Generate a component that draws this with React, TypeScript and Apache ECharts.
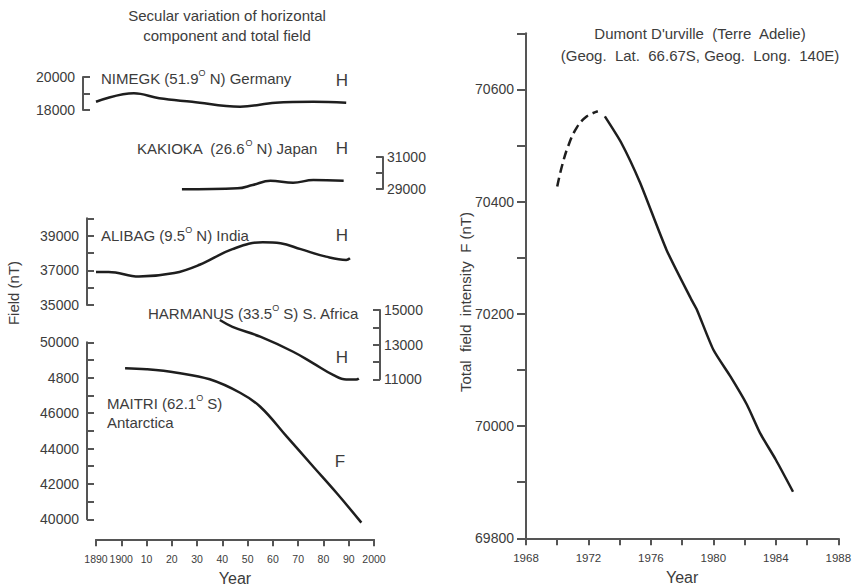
import React, { useEffect, useRef } from 'react';
import * as echarts from 'echarts';

// ---- Left figure: secular variation (years on a shared axis) ----
const nimegkYears = [1890, 1905, 1915, 1928, 1947, 1961, 1976, 1989];
const nimegkH = [18500, 19010, 18710, 18500, 18200, 18440, 18500, 18440];

const kakiokaYears = [1924, 1946, 1952, 1959, 1968, 1976, 1988];
const kakiokaH = [28980, 29040, 29250, 29520, 29390, 29560, 29520];

const alibagYears = [1890, 1895, 1907, 1921, 1931, 1944, 1956, 1963, 1971, 1981, 1989, 1990.5];
const alibagH = [36900, 36910, 36640, 36840, 37320, 38220, 38620, 38560, 38220, 37790, 37600, 37700];

const harmanusYears = [1939, 1944, 1955, 1968, 1976, 1984, 1989, 1993, 1994];
const harmanusH = [14420, 14030, 13460, 12590, 11920, 11240, 10990, 10990, 11050];

const maitriYears = [1901.5, 1910, 1922, 1935, 1947, 1955, 1965.5, 1976, 1985.3, 1995];
const maitriF = [48530, 48475, 48280, 47910, 47150, 46360, 44670, 42970, 41470, 39810];

// ---- Right figure: Dumont D'urville total field ----
const dumontDashedYears = [1970.0, 1970.3, 1970.7, 1971.25, 1971.9, 1972.6];
const dumontDashedF = [70427, 70463, 70499, 70532, 70552, 70561];
const dumontSolidYears = [1973.05, 1974.1, 1975.3, 1977.0, 1978.6, 1978.95, 1980.0, 1981.1, 1982.15, 1983.0, 1984.0, 1985.1];
const dumontSolidF = [70552, 70505, 70434, 70314, 70225, 70207, 70136, 70088, 70038, 69987, 69940, 69883];

const FONT = 'Liberation Sans, Arial, Helvetica, sans-serif';
const TXT = '#3c3c3c';
const AX = '#555555';
const LINE = '#1e1e1e';

const zip = (xs: number[], ys: number[]) => xs.map((x, i) => [x, ys[i]]);

function leftYAxis(gridIndex: number, min: number, max: number, pos: 'left' | 'right', offset: number, labelFn: (v: number) => string) {
  return {
    gridIndex,
    type: 'value',
    min,
    max,
    interval: 1000,
    position: pos,
    offset,
    axisLine: { show: true, lineStyle: { color: AX, width: 2 } },
    axisTick: { show: true, inside: true, length: 7, lineStyle: { color: AX, width: 2 } },
    axisLabel: {
      show: true,
      formatter: labelFn,
      color: TXT,
      fontSize: 14,
      fontFamily: FONT,
      margin: pos === 'left' ? 8 : 4,
    },
    splitLine: { show: false },
  };
}

function hiddenX(gridIndex: number) {
  return { gridIndex, type: 'value', min: 1890, max: 2000, interval: 10, show: false };
}

function stationText(x: number, y: number, pre: string, post: string) {
  return {
    type: 'text',
    x,
    y,
    style: {
      text: `{a|${pre}}{s|O}{a|${post}}`,
      verticalAlign: 'middle',
      align: 'left',
      rich: {
        a: { fontSize: 15, fontFamily: FONT, fill: TXT, lineHeight: 18, verticalAlign: 'bottom' },
        s: { fontSize: 9, fontFamily: FONT, fill: TXT, lineHeight: 9, verticalAlign: 'top' },
      },
    },
  };
}

function plainText(x: number, y: number, text: string, size: number, align = 'left', rotation = 0) {
  return {
    type: 'text',
    x,
    y,
    rotation,
    style: { text, fill: TXT, fontSize: size, fontFamily: FONT, align, verticalAlign: 'middle' },
  };
}

const lineSeries = (xi: number, data: number[][], smooth: number | boolean = 0.4, type = 'solid') => ({
  type: 'line',
  xAxisIndex: xi,
  yAxisIndex: xi,
  data,
  smooth,
  showSymbol: false,
  clip: false,
  lineStyle: { color: LINE, width: 2.5, type: type === 'dashed' ? [9, 5] : 'solid' },
});

const option: any = {
  animation: false,
  backgroundColor: '#ffffff',
  textStyle: { fontFamily: FONT },
  grid: [
    { left: 96, width: 278, top: 77, height: 33, containLabel: false, outerBoundsMode: 'none' },
    { left: 96, width: 278, top: 157, height: 32, containLabel: false, outerBoundsMode: 'none' },
    { left: 96, width: 278, top: 218.3, height: 86.7, containLabel: false, outerBoundsMode: 'none' },
    { left: 96, width: 278, top: 310, height: 69.3, containLabel: false, outerBoundsMode: 'none' },
    { left: 96, width: 278, top: 342.3, height: 177, containLabel: false, outerBoundsMode: 'none' },
    { left: 526, width: 312.3, top: 33.3, height: 505, containLabel: false, outerBoundsMode: 'none' },
  ],
  xAxis: [
    hiddenX(0),
    hiddenX(1),
    hiddenX(2),
    hiddenX(3),
    {
      gridIndex: 4,
      type: 'value',
      min: 1890,
      max: 2000,
      interval: 10,
      position: 'bottom',
      offset: 20,
      name: 'Year',
      nameLocation: 'middle',
      nameGap: 31,
      nameTextStyle: { color: TXT, fontSize: 16, fontFamily: FONT },
      axisLine: { show: true, lineStyle: { color: AX, width: 2 } },
      axisTick: { show: true, inside: false, length: 7, lineStyle: { color: AX, width: 2 } },
      axisLabel: {
        color: TXT,
        fontSize: 10.5,
        fontFamily: FONT,
        margin: 14,
        showMinLabel: true,
        showMaxLabel: true,
        hideOverlap: false,
        formatter: (v: number) => (v === 1890 || v === 1900 || v === 2000 ? String(v) : String(v % 100)),
      },
      splitLine: { show: false },
    },
    {
      gridIndex: 5,
      type: 'value',
      min: 1968,
      max: 1988,
      interval: 2,
      position: 'bottom',
      name: 'Year',
      nameLocation: 'middle',
      nameGap: 31,
      nameTextStyle: { color: TXT, fontSize: 16, fontFamily: FONT },
      axisLine: { show: true, lineStyle: { color: AX, width: 2 } },
      axisTick: { show: true, inside: false, length: 7, lineStyle: { color: AX, width: 2 } },
      axisLabel: {
        color: TXT,
        fontSize: 11.5,
        fontFamily: FONT,
        margin: 14,
        showMinLabel: true,
        showMaxLabel: true,
        formatter: (v: number) => (v % 4 === 0 ? String(v) : ''),
      },
      splitLine: { show: false },
    },
  ],
  yAxis: [
    leftYAxis(0, 18000, 20000, 'left', 13, (v) => (v % 2000 === 0 ? String(v) : '')),
    leftYAxis(1, 29000, 31000, 'right', 9, (v) => (v % 2000 === 1000 ? String(v) : '')),
    leftYAxis(2, 35000, 40000, 'left', 9, (v) => (v % 2000 === 1000 ? String(v) : '')),
    leftYAxis(3, 11000, 15000, 'right', 6, (v) => (v % 2000 === 1000 ? String(v) : '')),
    leftYAxis(4, 40000, 50000, 'left', 9, (v) => (v === 48000 ? '4800' : v % 2000 === 0 ? String(v) : '')),
    {
      gridIndex: 5,
      type: 'value',
      min: 69800,
      max: 70700,
      interval: 100,
      axisLine: { show: true, lineStyle: { color: AX, width: 2 } },
      axisTick: { show: true, inside: false, length: 9, lineStyle: { color: AX, width: 2 } },
      axisLabel: {
        color: TXT,
        fontSize: 14,
        fontFamily: FONT,
        margin: 12,
        formatter: (v: number) => (v % 200 === 0 ? String(v) : ''),
      },
      splitLine: { show: false },
    },
  ],
  series: [
    lineSeries(0, zip(nimegkYears, nimegkH)),
    lineSeries(1, zip(kakiokaYears, kakiokaH)),
    lineSeries(2, zip(alibagYears, alibagH)),
    lineSeries(3, zip(harmanusYears, harmanusH)),
    lineSeries(4, zip(maitriYears, maitriF)),
    lineSeries(5, zip(dumontDashedYears, dumontDashedF), 0.4, 'dashed'),
    lineSeries(5, zip(dumontSolidYears, dumontSolidF), 0.2),
  ],
  graphic: [
    plainText(227, 15, 'Secular variation of horizontal', 15, 'center'),
    plainText(227, 35, 'component and total field', 15, 'center'),
    stationText(101, 77, 'NIMEGK (51.9', ' N) Germany'),
    plainText(342, 80, 'H', 17, 'center'),
    stationText(137, 147, 'KAKIOKA  (26.6', ' N) Japan'),
    plainText(342, 148, 'H', 17, 'center'),
    stationText(101, 234, 'ALIBAG (9.5', ' N) India'),
    plainText(342, 235, 'H', 17, 'center'),
    stationText(148, 312, 'HARMANUS (33.5', ' S) S. Africa'),
    plainText(342, 357, 'H', 17, 'center'),
    stationText(107, 402, 'MAITRI (62.1', ' S)'),
    plainText(107, 422, 'Antarctica', 15, 'left'),
    plainText(340, 461, 'F', 17, 'center'),
    plainText(13, 293, 'Field (nT)', 15, 'center', Math.PI / 2),
    plainText(700, 33, "Dumont D'urville  (Terre  Adelie)", 15, 'center'),
    plainText(700, 55, '(Geog.  Lat.  66.67S, Geog.  Long.  140E)', 15, 'center'),
    plainText(465, 302, 'Total  field  intensity  F (nT)', 15, 'center', Math.PI / 2),
  ],
};

export default function App() {
  const ref = useRef<HTMLDivElement>(null);
  useEffect(() => {
    const chart = echarts.init(ref.current as HTMLDivElement, null, { renderer: 'svg' });
    chart.setOption(option);
    return () => chart.dispose();
  }, []);
  return <div ref={ref} style={{ position: 'absolute', left: 0, top: 0, width: 854, height: 587 }} />;
}
